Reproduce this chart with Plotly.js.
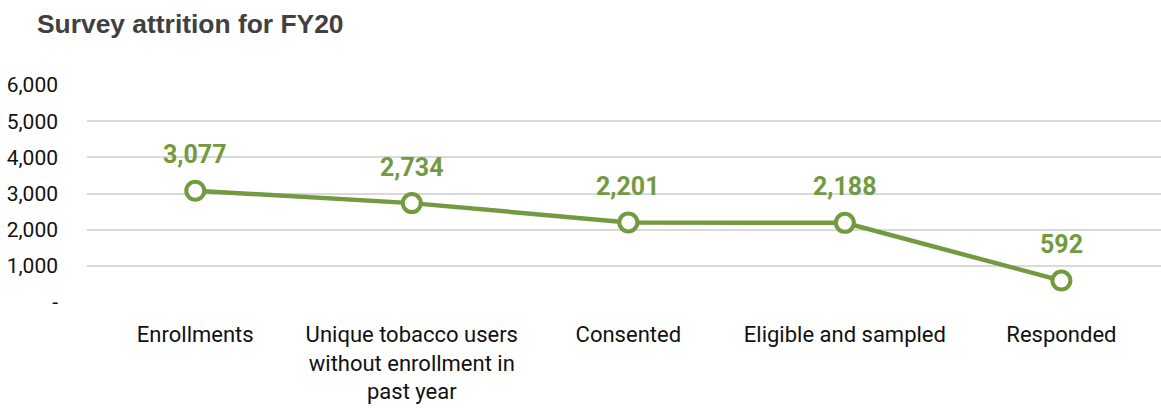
<!DOCTYPE html>
<html>
<head>
<meta charset="utf-8">
<script src="https://cdn.plot.ly/plotly-3.0.1.min.js"></script>
<style>html,body{margin:0;padding:0;background:#fff;overflow:hidden}</style>
</head>
<body>
<div id="chart" style="width:1161px;height:408px"></div>
<script>
const categories = ["Enrollments", "Unique tobacco users<br>without enrollment in<br>past year", "Consented", "Eligible and sampled", "Responded"];
const values = [3077, 2734, 2201, 2188, 592];
const labels = ["3,077", "2,734", "2,201", "2,188", "592"];
const yTickVals = [0, 1000, 2000, 3000, 4000, 5000, 6000];
const yTickText = ["-", "1,000", "2,000", "3,000", "4,000", "5,000", "6,000"];

const green = "#739a41";
const narrow = "Roboto, 'Liberation Sans', sans-serif";
const xIdx = categories.map((c, i) => i);

const trace = {
  x: xIdx,
  y: values,
  type: "scatter",
  mode: "lines+markers",
  line: {color: green, width: 4.5},
  marker: {size: 18, color: "#ffffff", line: {color: green, width: 4}},
  hoverinfo: "skip",
  cliponaxis: false
};

const annotations = xIdx.map((xi, i) => ({
  x: xi, y: values[i], xref: "x", yref: "y",
  text: "<b>" + labels[i] + "</b>",
  showarrow: false, yshift: 36,
  font: {family: narrow, size: 25, color: green}
}));

const layout = {
  width: 1161, height: 408,
  margin: {l: 87, r: 0, t: 85, b: 106},
  paper_bgcolor: "#fff", plot_bgcolor: "#fff",
  showlegend: false,
  title: {
    text: "<b>Survey attrition for FY20</b>",
    x: 37 / 1161, xanchor: "left", xref: "container",
    y: 1 - 24 / 408, yanchor: "middle", yref: "container",
    font: {family: "'Liberation Sans', Arial, sans-serif", size: 26.4, color: "#404040"}
  },
  xaxis: {
    range: [-0.5, 4.46],
    tickvals: xIdx, ticktext: categories,
    showgrid: false, zeroline: false, showline: false, ticks: "",
    ticklabelstandoff: 17,
    tickfont: {family: narrow, size: 22, color: "#111"},
    fixedrange: true
  },
  yaxis: {
    range: [0, 6000],
    tickvals: yTickVals, ticktext: yTickText,
    showgrid: true, gridcolor: "#d9d9d9", gridwidth: 2,
    zeroline: false, showline: false, ticks: "",
    ticklabelstandoff: 28,
    tickfont: {family: narrow, size: 21, color: "#111"},
    fixedrange: true
  },
  annotations: annotations
};

Plotly.newPlot("chart", [trace], layout, {displayModeBar: false, staticPlot: true});
</script>
</body>
</html>
